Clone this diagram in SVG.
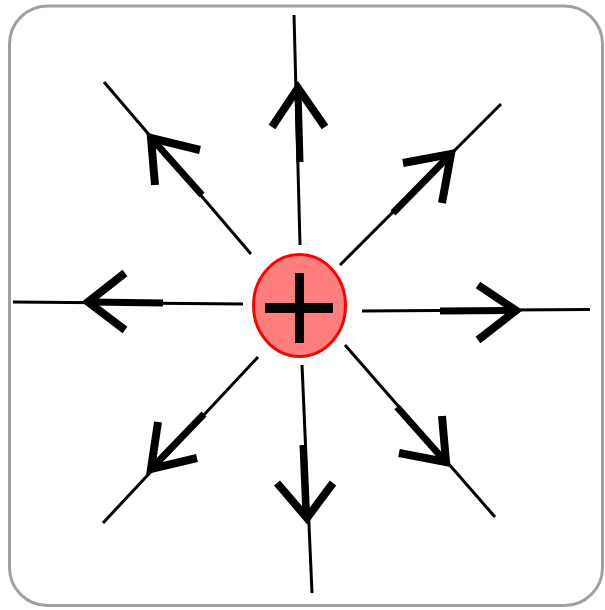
<svg xmlns="http://www.w3.org/2000/svg" width="605" height="610" viewBox="0 0 605 610">
  <style>
    .frame { fill: #ffffff; stroke: #a0a0a0; stroke-width: 3; }
    .thin { stroke: #000; stroke-width: 3; fill: none; stroke-linecap: butt; }
    .shaft { stroke: #000; stroke-width: 7; fill: none; stroke-linecap: butt; }
    .head { stroke: #000; stroke-width: 8; fill: none; stroke-linecap: butt; stroke-linejoin: miter; }
    .charge { fill: #ff7f7f; stroke: #ff0000; stroke-width: 3; }
  </style>
  <rect class="frame" x="9.5" y="6" width="593" height="599.5" rx="38" ry="38"/>
  <g id="field-lines">
    <g id="line-up">
      <line class="thin" x1="294" y1="15" x2="300" y2="245"/>
      <line class="shaft" x1="298" y1="90" x2="300" y2="162"/>
      <polyline class="head" points="272,127 298,88 325,127"/>
    </g>
    <g id="line-up-right">
      <line class="thin" x1="501" y1="104" x2="340" y2="265"/>
      <line class="shaft" x1="450" y1="155" x2="393" y2="213"/>
      <polyline class="head" points="403,163 451,154 442,203"/>
    </g>
    <g id="line-right">
      <line class="thin" x1="362" y1="311" x2="590" y2="309.5"/>
      <line class="shaft" x1="440" y1="311" x2="514" y2="310.5"/>
      <polyline class="head" points="478,285 516,310.5 478,340"/>
    </g>
    <g id="line-down-right">
      <line class="thin" x1="345" y1="345" x2="495" y2="517"/>
      <line class="shaft" x1="397" y1="407" x2="444" y2="460"/>
      <polyline class="head" points="442,416 446,462 399,453"/>
    </g>
    <g id="line-down">
      <line class="thin" x1="302" y1="365" x2="312" y2="593"/>
      <line class="shaft" x1="303" y1="445" x2="306" y2="516"/>
      <polyline class="head" points="277,483 307,518 333,483"/>
    </g>
    <g id="line-down-left">
      <line class="thin" x1="258" y1="357" x2="103" y2="523"/>
      <line class="shaft" x1="204" y1="414" x2="153" y2="467"/>
      <polyline class="head" points="158,422 151,469 197,458"/>
    </g>
    <g id="line-left">
      <line class="thin" x1="243" y1="304" x2="13" y2="302"/>
      <line class="shaft" x1="163" y1="303" x2="90" y2="302"/>
      <polyline class="head" points="125,273 88,302 125,330"/>
    </g>
    <g id="line-up-left">
      <line class="thin" x1="104" y1="82" x2="251" y2="254"/>
      <line class="shaft" x1="153" y1="140" x2="202" y2="195"/>
      <polyline class="head" points="200,150 151,138 155,185"/>
    </g>
  </g>
  <g id="charge">
    <ellipse class="charge" cx="299.5" cy="305.5" rx="46" ry="51"/>
    <rect x="295" y="273" width="9" height="70" fill="#000"/>
    <rect x="265" y="303" width="68" height="10" fill="#000"/>
  </g>
</svg>
